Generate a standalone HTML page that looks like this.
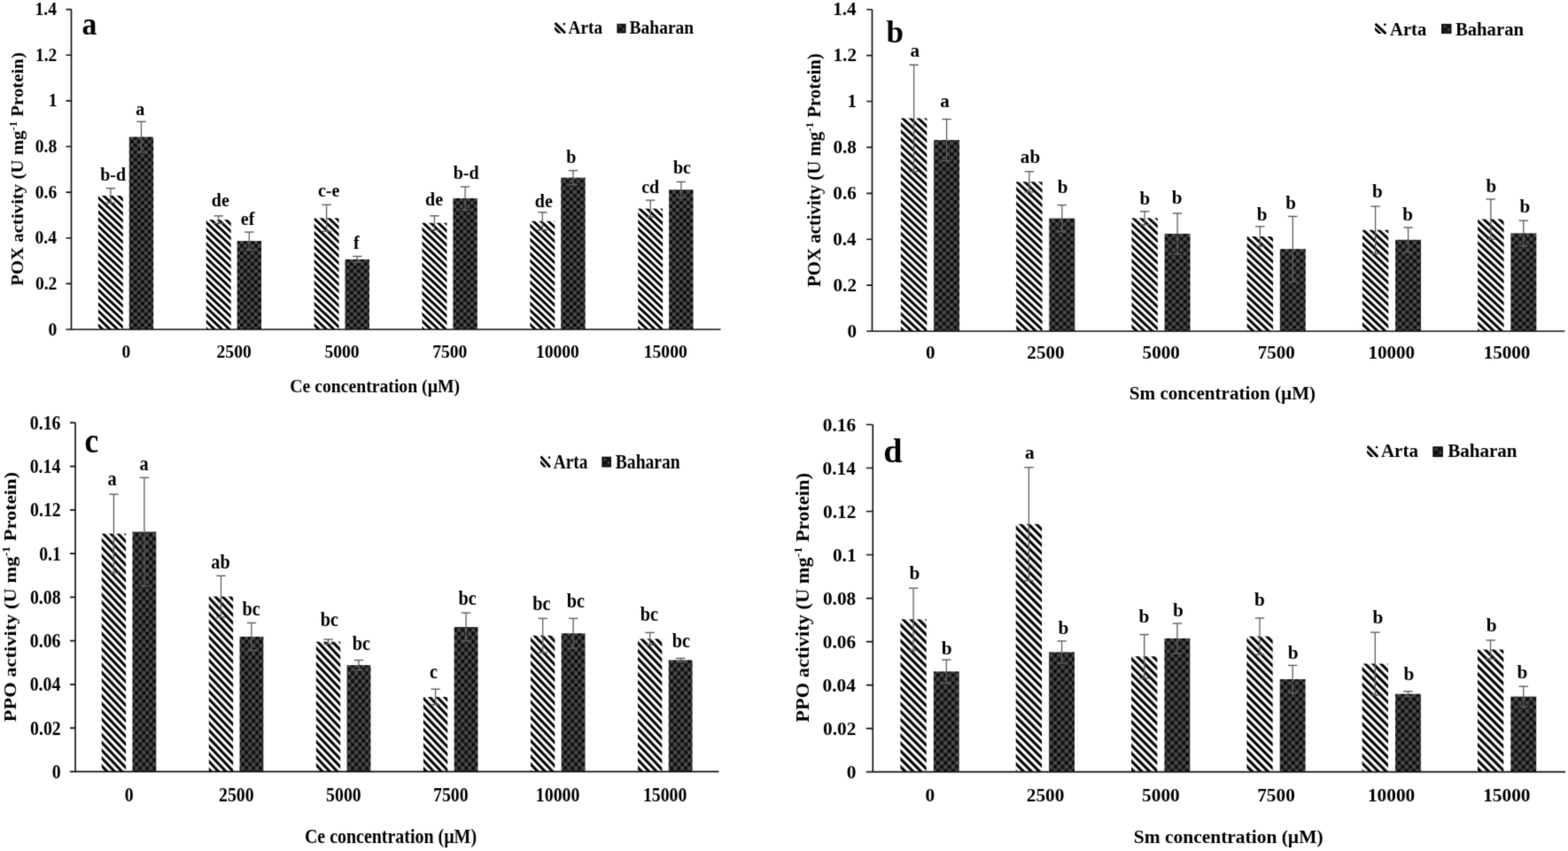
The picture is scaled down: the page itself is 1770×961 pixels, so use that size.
<!DOCTYPE html>
<html><head><meta charset="utf-8"><title>POX and PPO activity</title>
<style>
html,body{margin:0;padding:0;background:#fff;}
body{width:1770px;height:961px;overflow:hidden;}
svg{display:block;}
text{font-family:"Liberation Serif","Times New Roman",serif;font-weight:bold;fill:#000;}
</style></head><body>
<svg width="1770" height="961" viewBox="0 0 1770 961">
<defs>
<filter id="bl" x="0" y="0" width="1770" height="961" filterUnits="userSpaceOnUse" color-interpolation-filters="sRGB"><feConvolveMatrix order="3" kernelMatrix="0.01917 0.10012 0.01917 0.10012 0.52283 0.10012 0.01917 0.10012 0.01917" edgeMode="duplicate" preserveAlpha="true"/></filter>
<pattern id="stra" patternUnits="userSpaceOnUse" x="0.109" y="0" width="5.800" height="20" patternTransform="rotate(-46.47)"><rect x="0" y="0" width="2.900" height="20" fill="#000"/></pattern>
<pattern id="chka" patternUnits="userSpaceOnUse" width="8" height="8.12" x="2.85" y="7.68"><rect width="8" height="8.12" fill="#0e0e0e"/><rect width="4.0" height="4.06" fill="#4a4a4a"/><rect x="4.0" y="4.06" width="4.0" height="4.06" fill="#4a4a4a"/></pattern>
<pattern id="strb" patternUnits="userSpaceOnUse" x="4.656" y="0" width="6.004" height="20" patternTransform="rotate(-46.77)"><rect x="0" y="0" width="3.002" height="20" fill="#000"/></pattern>
<pattern id="chkb" patternUnits="userSpaceOnUse" width="8.5" height="8.32" x="1.10" y="1.48"><rect width="8.5" height="8.32" fill="#0e0e0e"/><rect width="4.25" height="4.16" fill="#4a4a4a"/><rect x="4.25" y="4.16" width="4.25" height="4.16" fill="#4a4a4a"/></pattern>
<pattern id="strc" patternUnits="userSpaceOnUse" x="1.134" y="0" width="6.069" height="20" patternTransform="rotate(-43.60)"><rect x="0" y="0" width="3.034" height="20" fill="#000"/></pattern>
<pattern id="chkc" patternUnits="userSpaceOnUse" width="8" height="8.94" x="0.20" y="7.14"><rect width="8" height="8.94" fill="#0e0e0e"/><rect width="4.0" height="4.47" fill="#4a4a4a"/><rect x="4.0" y="4.47" width="4.0" height="4.47" fill="#4a4a4a"/></pattern>
<pattern id="strd" patternUnits="userSpaceOnUse" x="4.349" y="0" width="6.293" height="20" patternTransform="rotate(-45.00)"><rect x="0" y="0" width="3.147" height="20" fill="#000"/></pattern>
<pattern id="chkd" patternUnits="userSpaceOnUse" width="8.53" height="9.0" x="7.51" y="8.70"><rect width="8.53" height="9.0" fill="#0e0e0e"/><rect width="4.265" height="4.5" fill="#4a4a4a"/><rect x="4.265" y="4.5" width="4.265" height="4.5" fill="#4a4a4a"/></pattern>

<pattern id="chkl" patternUnits="userSpaceOnUse" width="8" height="8">
<rect width="8" height="8" fill="#151515"/><rect x="2" y="2" width="4" height="4" fill="#3a3a3a"/></pattern>
</defs>
<g filter="url(#bl)">
<rect width="1770" height="961" fill="#fff"/>
<rect x="110.90" y="220.90" width="27.90" height="151.10" fill="url(#stra)"/>
<rect x="145.80" y="154.60" width="27.40" height="217.40" fill="url(#chka)"/>
<path d="M124.85 212.60V229.20" stroke="#5e5e5e" stroke-width="1.3" fill="none"/>
<path d="M119.65 212.60H130.05" stroke="#5e5e5e" stroke-width="1.4" fill="none"/>
<path d="M119.65 229.20H130.05" stroke="#5e5e5e" stroke-width="1.4" fill="none"/>
<path d="M159.50 137.30V171.90" stroke="#5e5e5e" stroke-width="1.3" fill="none"/>
<path d="M154.30 137.30H164.70" stroke="#5e5e5e" stroke-width="1.4" fill="none"/>
<path d="M154.30 171.90H164.70" stroke="#5e5e5e" stroke-width="1.4" fill="none"/>
<text transform="matrix(1.0000,0,0,1,113.25,203.60)" font-size="20">b-d</text>
<text transform="matrix(1.0000,0,0,1,153.35,130.40)" font-size="20">a</text>
<rect x="232.77" y="248.10" width="27.90" height="123.90" fill="url(#stra)"/>
<rect x="267.67" y="272.10" width="27.40" height="99.90" fill="url(#chka)"/>
<path d="M246.72 243.80V252.40" stroke="#5e5e5e" stroke-width="1.3" fill="none"/>
<path d="M241.52 243.80H251.92" stroke="#5e5e5e" stroke-width="1.4" fill="none"/>
<path d="M241.52 252.40H251.92" stroke="#5e5e5e" stroke-width="1.4" fill="none"/>
<path d="M281.37 262.10V282.10" stroke="#5e5e5e" stroke-width="1.3" fill="none"/>
<path d="M276.17 262.10H286.57" stroke="#5e5e5e" stroke-width="1.4" fill="none"/>
<path d="M276.17 282.10H286.57" stroke="#5e5e5e" stroke-width="1.4" fill="none"/>
<text transform="matrix(1.0000,0,0,1,238.85,233.10)" font-size="20">de</text>
<text transform="matrix(1.0000,0,0,1,271.75,253.60)" font-size="20">ef</text>
<rect x="354.64" y="246.30" width="27.90" height="125.70" fill="url(#stra)"/>
<rect x="389.54" y="292.90" width="27.40" height="79.10" fill="url(#chka)"/>
<path d="M368.59 231.30V261.30" stroke="#5e5e5e" stroke-width="1.3" fill="none"/>
<path d="M363.39 231.30H373.79" stroke="#5e5e5e" stroke-width="1.4" fill="none"/>
<path d="M363.39 261.30H373.79" stroke="#5e5e5e" stroke-width="1.4" fill="none"/>
<path d="M403.24 289.50V296.30" stroke="#5e5e5e" stroke-width="1.3" fill="none"/>
<path d="M398.04 289.50H408.44" stroke="#5e5e5e" stroke-width="1.4" fill="none"/>
<path d="M398.04 296.30H408.44" stroke="#5e5e5e" stroke-width="1.4" fill="none"/>
<text transform="matrix(1.0000,0,0,1,358.90,221.60)" font-size="20">c-e</text>
<text transform="matrix(1.0000,0,0,1,399.00,281.00)" font-size="20">f</text>
<rect x="476.51" y="251.70" width="27.90" height="120.30" fill="url(#stra)"/>
<rect x="511.41" y="223.90" width="27.40" height="148.10" fill="url(#chka)"/>
<path d="M490.46 243.70V259.70" stroke="#5e5e5e" stroke-width="1.3" fill="none"/>
<path d="M485.26 243.70H495.66" stroke="#5e5e5e" stroke-width="1.4" fill="none"/>
<path d="M485.26 259.70H495.66" stroke="#5e5e5e" stroke-width="1.4" fill="none"/>
<path d="M525.11 210.90V236.90" stroke="#5e5e5e" stroke-width="1.3" fill="none"/>
<path d="M519.91 210.90H530.31" stroke="#5e5e5e" stroke-width="1.4" fill="none"/>
<path d="M519.91 236.90H530.31" stroke="#5e5e5e" stroke-width="1.4" fill="none"/>
<text transform="matrix(1.0000,0,0,1,480.05,232.40)" font-size="20">de</text>
<text transform="matrix(1.0000,0,0,1,511.75,201.70)" font-size="20">b-d</text>
<rect x="598.38" y="249.70" width="27.90" height="122.30" fill="url(#stra)"/>
<rect x="633.28" y="200.60" width="27.40" height="171.40" fill="url(#chka)"/>
<path d="M612.33 239.70V259.70" stroke="#5e5e5e" stroke-width="1.3" fill="none"/>
<path d="M607.13 239.70H617.53" stroke="#5e5e5e" stroke-width="1.4" fill="none"/>
<path d="M607.13 259.70H617.53" stroke="#5e5e5e" stroke-width="1.4" fill="none"/>
<path d="M646.98 192.60V208.60" stroke="#5e5e5e" stroke-width="1.3" fill="none"/>
<path d="M641.78 192.60H652.18" stroke="#5e5e5e" stroke-width="1.4" fill="none"/>
<path d="M641.78 208.60H652.18" stroke="#5e5e5e" stroke-width="1.4" fill="none"/>
<text transform="matrix(1.0000,0,0,1,603.85,234.10)" font-size="20">de</text>
<text transform="matrix(1.0000,0,0,1,639.25,183.70)" font-size="20">b</text>
<rect x="720.25" y="235.60" width="27.90" height="136.40" fill="url(#stra)"/>
<rect x="755.15" y="214.20" width="27.40" height="157.80" fill="url(#chka)"/>
<path d="M734.20 226.10V245.10" stroke="#5e5e5e" stroke-width="1.3" fill="none"/>
<path d="M729.00 226.10H739.40" stroke="#5e5e5e" stroke-width="1.4" fill="none"/>
<path d="M729.00 245.10H739.40" stroke="#5e5e5e" stroke-width="1.4" fill="none"/>
<path d="M768.85 205.40V223.00" stroke="#5e5e5e" stroke-width="1.3" fill="none"/>
<path d="M763.65 205.40H774.05" stroke="#5e5e5e" stroke-width="1.4" fill="none"/>
<path d="M763.65 223.00H774.05" stroke="#5e5e5e" stroke-width="1.4" fill="none"/>
<text transform="matrix(1.0000,0,0,1,724.15,218.40)" font-size="20">cd</text>
<text transform="matrix(1.0000,0,0,1,759.95,196.00)" font-size="20">bc</text>
<path d="M80.50 10.60V372.00M74.50 372.00H813.50M74.50 320.37H80.50M74.50 268.74H80.50M74.50 217.11H80.50M74.50 165.49H80.50M74.50 113.86H80.50M74.50 62.23H80.50M74.50 10.60H80.50" stroke="#111111" stroke-width="1.65" fill="none"/>
<text transform="matrix(0.9800,0,0,1,54.58,378.65)" font-size="20">0</text>
<text transform="matrix(0.9800,0,0,1,39.88,327.02)" font-size="20">0.2</text>
<text transform="matrix(0.9800,0,0,1,39.49,275.39)" font-size="20">0.4</text>
<text transform="matrix(0.9800,0,0,1,39.69,223.76)" font-size="20">0.6</text>
<text transform="matrix(0.9800,0,0,1,39.79,172.14)" font-size="20">0.8</text>
<text transform="matrix(0.9800,0,0,1,54.78,120.46)" font-size="20">1</text>
<text transform="matrix(0.9800,0,0,1,39.88,68.83)" font-size="20">1.2</text>
<text transform="matrix(0.9800,0,0,1,39.49,17.20)" font-size="20">1.4</text>
<text transform="matrix(0.9800,0,0,1,137.40,403.50)" font-size="20">0</text>
<text transform="matrix(0.9800,0,0,1,244.57,403.50)" font-size="20">2500</text>
<text transform="matrix(0.9800,0,0,1,366.44,403.50)" font-size="20">5000</text>
<text transform="matrix(0.9800,0,0,1,488.16,403.50)" font-size="20">7500</text>
<text transform="matrix(0.9800,0,0,1,604.89,403.50)" font-size="20">10000</text>
<text transform="matrix(0.9800,0,0,1,726.76,403.50)" font-size="20">15000</text>
<text transform="matrix(0.9850,0,0,1,327.32,443.10)" font-size="20">Ce concentration (µM)</text>
<text transform="matrix(0.9341,0,0,1,92.39,38.60)" font-size="36">a</text>
<g transform="translate(626.10,25.70) scale(1.091,1.073)"><path d="M1.3 1.1L10.1 10.1" stroke="#000" stroke-width="2.7" stroke-linecap="round" fill="none"/><path d="M0 4.1L0 7.4L3.6 11L6.9 11Z" fill="#000"/><circle cx="9.9" cy="1.3" r="1.2" fill="#000"/></g>
<g transform="translate(696.40,26.80) scale(0.927,0.973)"><rect width="11" height="11" fill="#111"/><rect x="2" y="1.8" width="3.6" height="2.6" fill="#404040"/><rect x="6.6" y="4.8" width="2.6" height="3.4" fill="#404040"/><rect x="3" y="8.2" width="3.6" height="1.4" fill="#2a2a2a"/></g>
<text transform="matrix(0.9646,0,0,1,641.51,38.40)" font-size="20">Arta</text>
<text transform="matrix(0.9743,0,0,1,710.61,38.40)" font-size="20">Baharan</text>
<text transform="matrix(0,-1.0624,1,0,26.00,322.81)" font-size="19.60">POX activity (U mg<tspan font-size="12.15" dy="-7.06">-1</tspan><tspan dy="7.06"> Protein)</tspan></text>
<rect x="1016.90" y="133.50" width="29.40" height="240.50" fill="url(#strb)"/>
<rect x="1054.10" y="158.10" width="28.95" height="215.90" fill="url(#chkb)"/>
<path d="M1031.60 73.30V193.70" stroke="#5e5e5e" stroke-width="1.3" fill="none"/>
<path d="M1026.40 73.30H1036.80" stroke="#5e5e5e" stroke-width="1.4" fill="none"/>
<path d="M1026.40 193.70H1036.80" stroke="#5e5e5e" stroke-width="1.4" fill="none"/>
<path d="M1068.58 134.60V181.60" stroke="#5e5e5e" stroke-width="1.3" fill="none"/>
<path d="M1063.38 134.60H1073.78" stroke="#5e5e5e" stroke-width="1.4" fill="none"/>
<path d="M1063.38 181.60H1073.78" stroke="#5e5e5e" stroke-width="1.4" fill="none"/>
<text transform="matrix(1.0300,0,0,1,1027.46,64.30)" font-size="20.5">a</text>
<text transform="matrix(1.0300,0,0,1,1061.16,120.50)" font-size="20.5">a</text>
<rect x="1147.15" y="205.30" width="29.40" height="168.70" fill="url(#strb)"/>
<rect x="1184.35" y="246.60" width="28.95" height="127.40" fill="url(#chkb)"/>
<path d="M1161.85 193.80V216.80" stroke="#5e5e5e" stroke-width="1.3" fill="none"/>
<path d="M1156.65 193.80H1167.05" stroke="#5e5e5e" stroke-width="1.4" fill="none"/>
<path d="M1156.65 216.80H1167.05" stroke="#5e5e5e" stroke-width="1.4" fill="none"/>
<path d="M1198.83 231.60V261.60" stroke="#5e5e5e" stroke-width="1.3" fill="none"/>
<path d="M1193.62 231.60H1204.03" stroke="#5e5e5e" stroke-width="1.4" fill="none"/>
<path d="M1193.62 261.60H1204.03" stroke="#5e5e5e" stroke-width="1.4" fill="none"/>
<text transform="matrix(1.0300,0,0,1,1151.87,184.10)" font-size="20.5">ab</text>
<text transform="matrix(1.0300,0,0,1,1193.76,218.20)" font-size="20.5">b</text>
<rect x="1277.40" y="246.30" width="29.40" height="127.70" fill="url(#strb)"/>
<rect x="1314.60" y="263.90" width="28.95" height="110.10" fill="url(#chkb)"/>
<path d="M1292.10 238.80V253.80" stroke="#5e5e5e" stroke-width="1.3" fill="none"/>
<path d="M1286.90 238.80H1297.30" stroke="#5e5e5e" stroke-width="1.4" fill="none"/>
<path d="M1286.90 253.80H1297.30" stroke="#5e5e5e" stroke-width="1.4" fill="none"/>
<path d="M1329.08 240.90V286.90" stroke="#5e5e5e" stroke-width="1.3" fill="none"/>
<path d="M1323.88 240.90H1334.28" stroke="#5e5e5e" stroke-width="1.4" fill="none"/>
<path d="M1323.88 286.90H1334.28" stroke="#5e5e5e" stroke-width="1.4" fill="none"/>
<text transform="matrix(1.0300,0,0,1,1286.56,230.50)" font-size="20.5">b</text>
<text transform="matrix(1.0300,0,0,1,1322.76,229.50)" font-size="20.5">b</text>
<rect x="1407.65" y="267.00" width="29.40" height="107.00" fill="url(#strb)"/>
<rect x="1444.85" y="281.20" width="28.95" height="92.80" fill="url(#chkb)"/>
<path d="M1422.35 255.80V278.20" stroke="#5e5e5e" stroke-width="1.3" fill="none"/>
<path d="M1417.15 255.80H1427.55" stroke="#5e5e5e" stroke-width="1.4" fill="none"/>
<path d="M1417.15 278.20H1427.55" stroke="#5e5e5e" stroke-width="1.4" fill="none"/>
<path d="M1459.33 244.40V318.00" stroke="#5e5e5e" stroke-width="1.3" fill="none"/>
<path d="M1454.12 244.40H1464.53" stroke="#5e5e5e" stroke-width="1.4" fill="none"/>
<path d="M1454.12 318.00H1464.53" stroke="#5e5e5e" stroke-width="1.4" fill="none"/>
<text transform="matrix(1.0300,0,0,1,1418.76,248.50)" font-size="20.5">b</text>
<text transform="matrix(1.0300,0,0,1,1451.36,236.30)" font-size="20.5">b</text>
<rect x="1537.90" y="259.70" width="29.40" height="114.30" fill="url(#strb)"/>
<rect x="1575.10" y="270.80" width="28.95" height="103.20" fill="url(#chkb)"/>
<path d="M1552.60 233.00V286.40" stroke="#5e5e5e" stroke-width="1.3" fill="none"/>
<path d="M1547.40 233.00H1557.80" stroke="#5e5e5e" stroke-width="1.4" fill="none"/>
<path d="M1547.40 286.40H1557.80" stroke="#5e5e5e" stroke-width="1.4" fill="none"/>
<path d="M1589.58 257.00V284.60" stroke="#5e5e5e" stroke-width="1.3" fill="none"/>
<path d="M1584.38 257.00H1594.78" stroke="#5e5e5e" stroke-width="1.4" fill="none"/>
<path d="M1584.38 284.60H1594.78" stroke="#5e5e5e" stroke-width="1.4" fill="none"/>
<text transform="matrix(1.0300,0,0,1,1549.06,223.20)" font-size="20.5">b</text>
<text transform="matrix(1.0300,0,0,1,1583.26,248.90)" font-size="20.5">b</text>
<rect x="1668.15" y="247.50" width="29.40" height="126.50" fill="url(#strb)"/>
<rect x="1705.35" y="263.40" width="28.95" height="110.60" fill="url(#chkb)"/>
<path d="M1682.85 224.90V270.10" stroke="#5e5e5e" stroke-width="1.3" fill="none"/>
<path d="M1677.65 224.90H1688.05" stroke="#5e5e5e" stroke-width="1.4" fill="none"/>
<path d="M1677.65 270.10H1688.05" stroke="#5e5e5e" stroke-width="1.4" fill="none"/>
<path d="M1719.83 249.10V277.70" stroke="#5e5e5e" stroke-width="1.3" fill="none"/>
<path d="M1714.62 249.10H1725.03" stroke="#5e5e5e" stroke-width="1.4" fill="none"/>
<path d="M1714.62 277.70H1725.03" stroke="#5e5e5e" stroke-width="1.4" fill="none"/>
<text transform="matrix(1.0300,0,0,1,1677.56,217.10)" font-size="20.5">b</text>
<text transform="matrix(1.0300,0,0,1,1715.46,240.10)" font-size="20.5">b</text>
<path d="M984.50 10.70V374.00M978.20 374.00H1766.50M978.20 322.10H984.50M978.20 270.20H984.50M978.20 218.30H984.50M978.20 166.40H984.50M978.20 114.50H984.50M978.20 62.60H984.50M978.20 10.70H984.50" stroke="#111111" stroke-width="1.65" fill="none"/>
<text transform="matrix(1.0300,0,0,1,956.39,380.82)" font-size="20.5">0</text>
<text transform="matrix(1.0300,0,0,1,940.55,328.92)" font-size="20.5">0.2</text>
<text transform="matrix(1.0300,0,0,1,940.13,277.02)" font-size="20.5">0.4</text>
<text transform="matrix(1.0300,0,0,1,940.34,225.12)" font-size="20.5">0.6</text>
<text transform="matrix(1.0300,0,0,1,940.45,173.22)" font-size="20.5">0.8</text>
<text transform="matrix(1.0300,0,0,1,956.60,121.27)" font-size="20.5">1</text>
<text transform="matrix(1.0300,0,0,1,940.55,69.37)" font-size="20.5">1.2</text>
<text transform="matrix(1.0300,0,0,1,940.13,17.46)" font-size="20.5">1.4</text>
<text transform="matrix(1.0300,0,0,1,1044.92,404.50)" font-size="20.5">0</text>
<text transform="matrix(1.0300,0,0,1,1159.34,404.50)" font-size="20.5">2500</text>
<text transform="matrix(1.0300,0,0,1,1289.59,404.50)" font-size="20.5">5000</text>
<text transform="matrix(1.0300,0,0,1,1419.68,404.50)" font-size="20.5">7500</text>
<text transform="matrix(1.0300,0,0,1,1544.38,404.50)" font-size="20.5">10000</text>
<text transform="matrix(1.0300,0,0,1,1674.63,404.50)" font-size="20.5">15000</text>
<text transform="matrix(1.0305,0,0,1,1274.84,450.80)" font-size="20.5">Sm concentration (µM)</text>
<text transform="matrix(0.9736,0,0,1,1000.55,47.60)" font-size="36">b</text>
<g transform="translate(1552.00,26.50) scale(1.145,1.055)"><path d="M1.3 1.1L10.1 10.1" stroke="#000" stroke-width="2.7" stroke-linecap="round" fill="none"/><path d="M0 4.1L0 7.4L3.6 11L6.9 11Z" fill="#000"/><circle cx="9.9" cy="1.3" r="1.2" fill="#000"/></g>
<g transform="translate(1627.00,26.90) scale(1.045,1.018)"><rect width="11" height="11" fill="#111"/><rect x="2" y="1.8" width="3.6" height="2.6" fill="#404040"/><rect x="6.6" y="4.8" width="2.6" height="3.4" fill="#404040"/><rect x="3" y="8.2" width="3.6" height="1.4" fill="#2a2a2a"/></g>
<text transform="matrix(1.0052,0,0,1,1569.09,39.70)" font-size="20.5">Arta</text>
<text transform="matrix(1.0126,0,0,1,1642.89,39.70)" font-size="20.5">Baharan</text>
<text transform="matrix(0,-0.9858,1,0,926.00,323.91)" font-size="21.12">POX activity (U mg<tspan font-size="13.09" dy="-7.60">-1</tspan><tspan dy="7.60"> Protein)</tspan></text>
<rect x="114.75" y="602.60" width="27.35" height="268.80" fill="url(#strc)"/>
<rect x="149.50" y="600.50" width="26.80" height="270.90" fill="url(#chkc)"/>
<path d="M128.43 558.20V647.00" stroke="#5e5e5e" stroke-width="1.3" fill="none"/>
<path d="M123.23 558.20H133.62" stroke="#5e5e5e" stroke-width="1.4" fill="none"/>
<path d="M123.23 647.00H133.62" stroke="#5e5e5e" stroke-width="1.4" fill="none"/>
<path d="M162.90 539.40V661.60" stroke="#5e5e5e" stroke-width="1.3" fill="none"/>
<path d="M157.70 539.40H168.10" stroke="#5e5e5e" stroke-width="1.4" fill="none"/>
<path d="M157.70 661.60H168.10" stroke="#5e5e5e" stroke-width="1.4" fill="none"/>
<text transform="matrix(0.9000,0,0,1,121.39,547.50)" font-size="22.5">a</text>
<text transform="matrix(0.9000,0,0,1,157.39,530.80)" font-size="22.5">a</text>
<rect x="235.80" y="673.60" width="27.35" height="197.80" fill="url(#strc)"/>
<rect x="270.55" y="719.00" width="26.80" height="152.40" fill="url(#chkc)"/>
<path d="M249.48 650.20V697.00" stroke="#5e5e5e" stroke-width="1.3" fill="none"/>
<path d="M244.28 650.20H254.68" stroke="#5e5e5e" stroke-width="1.4" fill="none"/>
<path d="M244.28 697.00H254.68" stroke="#5e5e5e" stroke-width="1.4" fill="none"/>
<path d="M283.95 703.40V734.60" stroke="#5e5e5e" stroke-width="1.3" fill="none"/>
<path d="M278.75 703.40H289.15" stroke="#5e5e5e" stroke-width="1.4" fill="none"/>
<path d="M278.75 734.60H289.15" stroke="#5e5e5e" stroke-width="1.4" fill="none"/>
<text transform="matrix(0.9000,0,0,1,238.32,641.80)" font-size="22.5">ab</text>
<text transform="matrix(0.9000,0,0,1,273.53,695.30)" font-size="22.5">bc</text>
<rect x="356.85" y="724.70" width="27.35" height="146.70" fill="url(#strc)"/>
<rect x="391.60" y="751.10" width="26.80" height="120.30" fill="url(#chkc)"/>
<path d="M370.52 722.00V727.40" stroke="#5e5e5e" stroke-width="1.3" fill="none"/>
<path d="M365.32 722.00H375.72" stroke="#5e5e5e" stroke-width="1.4" fill="none"/>
<path d="M365.32 727.40H375.72" stroke="#5e5e5e" stroke-width="1.4" fill="none"/>
<path d="M405.00 745.50V756.70" stroke="#5e5e5e" stroke-width="1.3" fill="none"/>
<path d="M399.80 745.50H410.20" stroke="#5e5e5e" stroke-width="1.4" fill="none"/>
<path d="M399.80 756.70H410.20" stroke="#5e5e5e" stroke-width="1.4" fill="none"/>
<text transform="matrix(0.9000,0,0,1,361.73,707.40)" font-size="22.5">bc</text>
<text transform="matrix(0.9000,0,0,1,397.73,733.80)" font-size="22.5">bc</text>
<rect x="477.90" y="787.00" width="27.35" height="84.40" fill="url(#strc)"/>
<rect x="512.65" y="708.00" width="26.80" height="163.40" fill="url(#chkc)"/>
<path d="M491.57 778.20V795.80" stroke="#5e5e5e" stroke-width="1.3" fill="none"/>
<path d="M486.38 778.20H496.77" stroke="#5e5e5e" stroke-width="1.4" fill="none"/>
<path d="M486.38 795.80H496.77" stroke="#5e5e5e" stroke-width="1.4" fill="none"/>
<path d="M526.05 692.10V723.90" stroke="#5e5e5e" stroke-width="1.3" fill="none"/>
<path d="M520.85 692.10H531.25" stroke="#5e5e5e" stroke-width="1.4" fill="none"/>
<path d="M520.85 723.90H531.25" stroke="#5e5e5e" stroke-width="1.4" fill="none"/>
<text transform="matrix(0.9000,0,0,1,485.09,765.70)" font-size="22.5">c</text>
<text transform="matrix(0.9000,0,0,1,517.53,682.80)" font-size="22.5">bc</text>
<rect x="598.95" y="717.70" width="27.35" height="153.70" fill="url(#strc)"/>
<rect x="633.70" y="715.20" width="26.80" height="156.20" fill="url(#chkc)"/>
<path d="M612.62 698.40V737.00" stroke="#5e5e5e" stroke-width="1.3" fill="none"/>
<path d="M607.42 698.40H617.83" stroke="#5e5e5e" stroke-width="1.4" fill="none"/>
<path d="M607.42 737.00H617.83" stroke="#5e5e5e" stroke-width="1.4" fill="none"/>
<path d="M647.10 698.40V732.00" stroke="#5e5e5e" stroke-width="1.3" fill="none"/>
<path d="M641.90 698.40H652.30" stroke="#5e5e5e" stroke-width="1.4" fill="none"/>
<path d="M641.90 732.00H652.30" stroke="#5e5e5e" stroke-width="1.4" fill="none"/>
<text transform="matrix(0.9000,0,0,1,601.23,689.00)" font-size="22.5">bc</text>
<text transform="matrix(0.9000,0,0,1,639.73,686.30)" font-size="22.5">bc</text>
<rect x="720.00" y="721.40" width="27.35" height="150.00" fill="url(#strc)"/>
<rect x="754.75" y="745.40" width="26.80" height="126.00" fill="url(#chkc)"/>
<path d="M733.67 714.40V728.40" stroke="#5e5e5e" stroke-width="1.3" fill="none"/>
<path d="M728.47 714.40H738.88" stroke="#5e5e5e" stroke-width="1.4" fill="none"/>
<path d="M728.47 728.40H738.88" stroke="#5e5e5e" stroke-width="1.4" fill="none"/>
<path d="M768.15 743.40V747.40" stroke="#5e5e5e" stroke-width="1.3" fill="none"/>
<path d="M762.95 743.40H773.35" stroke="#5e5e5e" stroke-width="1.4" fill="none"/>
<path d="M762.95 747.40H773.35" stroke="#5e5e5e" stroke-width="1.4" fill="none"/>
<text transform="matrix(0.9000,0,0,1,722.83,701.40)" font-size="22.5">bc</text>
<text transform="matrix(0.9000,0,0,1,758.63,730.90)" font-size="22.5">bc</text>
<path d="M85.00 477.30V871.40M79.00 871.40H811.50M79.00 822.14H85.00M79.00 772.88H85.00M79.00 723.61H85.00M79.00 674.35H85.00M79.00 625.09H85.00M79.00 575.83H85.00M79.00 526.56H85.00M79.00 477.30H85.00" stroke="#111111" stroke-width="1.65" fill="none"/>
<text transform="matrix(0.8800,0,0,1,58.79,878.88)" font-size="22.5">0</text>
<text transform="matrix(0.8800,0,0,1,34.04,829.62)" font-size="22.5">0.02</text>
<text transform="matrix(0.8800,0,0,1,33.65,780.36)" font-size="22.5">0.04</text>
<text transform="matrix(0.8800,0,0,1,33.84,731.09)" font-size="22.5">0.06</text>
<text transform="matrix(0.8800,0,0,1,33.94,681.83)" font-size="22.5">0.08</text>
<text transform="matrix(0.8800,0,0,1,44.14,632.57)" font-size="22.5">0.1</text>
<text transform="matrix(0.8800,0,0,1,34.04,583.31)" font-size="22.5">0.12</text>
<text transform="matrix(0.8800,0,0,1,33.65,534.04)" font-size="22.5">0.14</text>
<text transform="matrix(0.8800,0,0,1,33.84,484.78)" font-size="22.5">0.16</text>
<text transform="matrix(0.8800,0,0,1,140.85,904.50)" font-size="22.5">0</text>
<text transform="matrix(0.8800,0,0,1,247.05,904.50)" font-size="22.5">2500</text>
<text transform="matrix(0.8800,0,0,1,368.10,904.50)" font-size="22.5">5000</text>
<text transform="matrix(0.8800,0,0,1,489.00,904.50)" font-size="22.5">7500</text>
<text transform="matrix(0.8800,0,0,1,604.85,904.50)" font-size="22.5">10000</text>
<text transform="matrix(0.8800,0,0,1,725.90,904.50)" font-size="22.5">15000</text>
<text transform="matrix(0.8866,0,0,1,343.90,951.60)" font-size="22.5">Ce concentration (µM)</text>
<text transform="matrix(0.8896,0,0,1,95.55,510.50)" font-size="40">c</text>
<g transform="translate(610.10,515.20) scale(1.000,1.127)"><path d="M1.3 1.1L10.1 10.1" stroke="#000" stroke-width="2.7" stroke-linecap="round" fill="none"/><path d="M0 4.1L0 7.4L3.6 11L6.9 11Z" fill="#000"/><circle cx="9.9" cy="1.3" r="1.2" fill="#000"/></g>
<g transform="translate(679.30,515.70) scale(0.973,1.082)"><rect width="11" height="11" fill="#111"/><rect x="2" y="1.8" width="3.6" height="2.6" fill="#404040"/><rect x="6.6" y="4.8" width="2.6" height="3.4" fill="#404040"/><rect x="3" y="8.2" width="3.6" height="1.4" fill="#2a2a2a"/></g>
<text transform="matrix(0.8596,0,0,1,624.81,529.00)" font-size="22.5">Arta</text>
<text transform="matrix(0.8708,0,0,1,694.81,529.00)" font-size="22.5">Baharan</text>
<text transform="matrix(0,-1.1368,1,0,18.30,815.34)" font-size="19.80">PPO activity (U mg<tspan font-size="12.28" dy="-7.13">-1</tspan><tspan dy="7.13"> Protein)</tspan></text>
<rect x="1016.45" y="699.40" width="29.30" height="172.20" fill="url(#strd)"/>
<rect x="1053.85" y="758.30" width="28.85" height="113.30" fill="url(#chkd)"/>
<path d="M1031.10 664.20V734.60" stroke="#5e5e5e" stroke-width="1.3" fill="none"/>
<path d="M1025.90 664.20H1036.30" stroke="#5e5e5e" stroke-width="1.4" fill="none"/>
<path d="M1025.90 734.60H1036.30" stroke="#5e5e5e" stroke-width="1.4" fill="none"/>
<path d="M1068.28 745.10V771.50" stroke="#5e5e5e" stroke-width="1.3" fill="none"/>
<path d="M1063.08 745.10H1073.48" stroke="#5e5e5e" stroke-width="1.4" fill="none"/>
<path d="M1063.08 771.50H1073.48" stroke="#5e5e5e" stroke-width="1.4" fill="none"/>
<text transform="matrix(0.9700,0,0,1,1026.60,654.10)" font-size="22">b</text>
<text transform="matrix(0.9700,0,0,1,1062.70,738.60)" font-size="22">b</text>
<rect x="1146.75" y="591.80" width="29.30" height="279.80" fill="url(#strd)"/>
<rect x="1184.15" y="736.40" width="28.85" height="135.20" fill="url(#chkd)"/>
<path d="M1161.40 527.90V655.70" stroke="#5e5e5e" stroke-width="1.3" fill="none"/>
<path d="M1156.20 527.90H1166.60" stroke="#5e5e5e" stroke-width="1.4" fill="none"/>
<path d="M1156.20 655.70H1166.60" stroke="#5e5e5e" stroke-width="1.4" fill="none"/>
<path d="M1198.57 723.90V748.90" stroke="#5e5e5e" stroke-width="1.3" fill="none"/>
<path d="M1193.37 723.90H1203.77" stroke="#5e5e5e" stroke-width="1.4" fill="none"/>
<path d="M1193.37 748.90H1203.77" stroke="#5e5e5e" stroke-width="1.4" fill="none"/>
<text transform="matrix(0.9700,0,0,1,1156.90,518.40)" font-size="22">a</text>
<text transform="matrix(0.9700,0,0,1,1194.40,716.40)" font-size="22">b</text>
<rect x="1277.05" y="741.20" width="29.30" height="130.40" fill="url(#strd)"/>
<rect x="1314.45" y="720.90" width="28.85" height="150.70" fill="url(#chkd)"/>
<path d="M1291.70 716.60V765.80" stroke="#5e5e5e" stroke-width="1.3" fill="none"/>
<path d="M1286.50 716.60H1296.90" stroke="#5e5e5e" stroke-width="1.4" fill="none"/>
<path d="M1286.50 765.80H1296.90" stroke="#5e5e5e" stroke-width="1.4" fill="none"/>
<path d="M1328.88 704.00V737.80" stroke="#5e5e5e" stroke-width="1.3" fill="none"/>
<path d="M1323.67 704.00H1334.08" stroke="#5e5e5e" stroke-width="1.4" fill="none"/>
<path d="M1323.67 737.80H1334.08" stroke="#5e5e5e" stroke-width="1.4" fill="none"/>
<text transform="matrix(0.9700,0,0,1,1285.60,703.00)" font-size="22">b</text>
<text transform="matrix(0.9700,0,0,1,1323.90,695.50)" font-size="22">b</text>
<rect x="1407.35" y="718.60" width="29.30" height="153.00" fill="url(#strd)"/>
<rect x="1444.75" y="767.00" width="28.85" height="104.60" fill="url(#chkd)"/>
<path d="M1422.00 698.00V739.20" stroke="#5e5e5e" stroke-width="1.3" fill="none"/>
<path d="M1416.80 698.00H1427.20" stroke="#5e5e5e" stroke-width="1.4" fill="none"/>
<path d="M1416.80 739.20H1427.20" stroke="#5e5e5e" stroke-width="1.4" fill="none"/>
<path d="M1459.18 751.40V782.60" stroke="#5e5e5e" stroke-width="1.3" fill="none"/>
<path d="M1453.98 751.40H1464.38" stroke="#5e5e5e" stroke-width="1.4" fill="none"/>
<path d="M1453.98 782.60H1464.38" stroke="#5e5e5e" stroke-width="1.4" fill="none"/>
<text transform="matrix(0.9700,0,0,1,1416.00,684.30)" font-size="22">b</text>
<text transform="matrix(0.9700,0,0,1,1453.80,743.60)" font-size="22">b</text>
<rect x="1537.65" y="749.50" width="29.30" height="122.10" fill="url(#strd)"/>
<rect x="1575.05" y="783.60" width="28.85" height="88.00" fill="url(#chkd)"/>
<path d="M1552.30 714.10V784.90" stroke="#5e5e5e" stroke-width="1.3" fill="none"/>
<path d="M1547.10 714.10H1557.50" stroke="#5e5e5e" stroke-width="1.4" fill="none"/>
<path d="M1547.10 784.90H1557.50" stroke="#5e5e5e" stroke-width="1.4" fill="none"/>
<path d="M1589.47 780.70V786.50" stroke="#5e5e5e" stroke-width="1.3" fill="none"/>
<path d="M1584.27 780.70H1594.67" stroke="#5e5e5e" stroke-width="1.4" fill="none"/>
<path d="M1584.27 786.50H1594.67" stroke="#5e5e5e" stroke-width="1.4" fill="none"/>
<text transform="matrix(0.9700,0,0,1,1549.50,704.00)" font-size="22">b</text>
<text transform="matrix(0.9700,0,0,1,1584.60,768.30)" font-size="22">b</text>
<rect x="1667.95" y="733.50" width="29.30" height="138.10" fill="url(#strd)"/>
<rect x="1705.35" y="786.60" width="28.85" height="85.00" fill="url(#chkd)"/>
<path d="M1682.60 723.00V744.00" stroke="#5e5e5e" stroke-width="1.3" fill="none"/>
<path d="M1677.40 723.00H1687.80" stroke="#5e5e5e" stroke-width="1.4" fill="none"/>
<path d="M1677.40 744.00H1687.80" stroke="#5e5e5e" stroke-width="1.4" fill="none"/>
<path d="M1719.78 775.10V798.10" stroke="#5e5e5e" stroke-width="1.3" fill="none"/>
<path d="M1714.58 775.10H1724.98" stroke="#5e5e5e" stroke-width="1.4" fill="none"/>
<path d="M1714.58 798.10H1724.98" stroke="#5e5e5e" stroke-width="1.4" fill="none"/>
<text transform="matrix(0.9700,0,0,1,1677.80,712.50)" font-size="22">b</text>
<text transform="matrix(0.9700,0,0,1,1712.50,765.50)" font-size="22">b</text>
<path d="M985.30 479.50V871.60M977.80 871.60H1767.00M977.80 822.59H985.30M977.80 773.58H985.30M977.80 724.56H985.30M977.80 675.55H985.30M977.80 626.54H985.30M977.80 577.52H985.30M977.80 528.51H985.30M977.80 479.50H985.30" stroke="#111111" stroke-width="1.65" fill="none"/>
<text transform="matrix(0.9700,0,0,1,955.68,878.92)" font-size="22">0</text>
<text transform="matrix(0.9700,0,0,1,929.01,829.90)" font-size="22">0.02</text>
<text transform="matrix(0.9700,0,0,1,928.58,780.89)" font-size="22">0.04</text>
<text transform="matrix(0.9700,0,0,1,928.80,731.88)" font-size="22">0.06</text>
<text transform="matrix(0.9700,0,0,1,928.90,682.87)" font-size="22">0.08</text>
<text transform="matrix(0.9700,0,0,1,939.89,633.85)" font-size="22">0.1</text>
<text transform="matrix(0.9700,0,0,1,929.01,584.84)" font-size="22">0.12</text>
<text transform="matrix(0.9700,0,0,1,928.58,535.83)" font-size="22">0.14</text>
<text transform="matrix(0.9700,0,0,1,928.80,486.81)" font-size="22">0.16</text>
<text transform="matrix(0.9700,0,0,1,1044.46,904.80)" font-size="22">0</text>
<text transform="matrix(0.9700,0,0,1,1158.76,904.80)" font-size="22">2500</text>
<text transform="matrix(0.9700,0,0,1,1289.06,904.80)" font-size="22">5000</text>
<text transform="matrix(0.9700,0,0,1,1419.20,904.80)" font-size="22">7500</text>
<text transform="matrix(0.9700,0,0,1,1543.90,904.80)" font-size="22">10000</text>
<text transform="matrix(0.9700,0,0,1,1674.20,904.80)" font-size="22">15000</text>
<text transform="matrix(0.9764,0,0,1,1279.72,951.80)" font-size="22">Sm concentration (µM)</text>
<text transform="matrix(0.9901,0,0,1,997.27,522.40)" font-size="38.6">d</text>
<g transform="translate(1543.10,503.60) scale(1.109,1.118)"><path d="M1.3 1.1L10.1 10.1" stroke="#000" stroke-width="2.7" stroke-linecap="round" fill="none"/><path d="M0 4.1L0 7.4L3.6 11L6.9 11Z" fill="#000"/><circle cx="9.9" cy="1.3" r="1.2" fill="#000"/></g>
<g transform="translate(1617.30,504.20) scale(1.055,1.082)"><rect width="11" height="11" fill="#111"/><rect x="2" y="1.8" width="3.6" height="2.6" fill="#404040"/><rect x="6.6" y="4.8" width="2.6" height="3.4" fill="#404040"/><rect x="3" y="8.2" width="3.6" height="1.4" fill="#2a2a2a"/></g>
<text transform="matrix(0.9574,0,0,1,1558.89,516.10)" font-size="22">Arta</text>
<text transform="matrix(0.9571,0,0,1,1634.18,516.10)" font-size="22">Baharan</text>
<text transform="matrix(0,-1.0520,1,0,912.50,815.64)" font-size="21.34">PPO activity (U mg<tspan font-size="13.23" dy="-7.68">-1</tspan><tspan dy="7.68"> Protein)</tspan></text>
</g>
</svg>
</body></html>
